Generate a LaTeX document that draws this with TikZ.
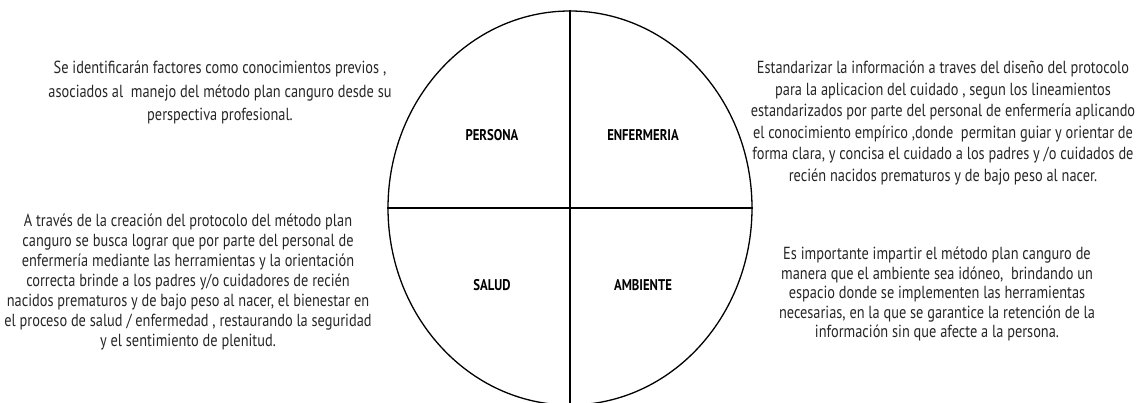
\documentclass[tikz,border=0pt]{standalone}
\usepackage{fontspec}
\setmainfont{PT Sans}[FakeStretch=0.82]
\usetikzlibrary{shapes.geometric}
\begin{document}
\begin{tikzpicture}[x=1pt,y=-1pt,
  desc/.style={align=center, inner sep=0pt, text=black!85},
  lab/.style={font=\bfseries\fontsize{15.5}{17}\selectfont, inner sep=0pt},
  ring/.style={draw, ellipse, line width=1.3pt, inner sep=0pt, minimum width=364pt, minimum height=394pt},
  divider/.style={line width=1.3pt}]
\useasboundingbox (0,0) rectangle (1139,403);
\node[ring] (c) at (570,208) {};
\draw[divider] (c.north) -- (c.south);
\draw[divider] (c.west) -- (c.east);
\node[lab] (persona) at (492,135) {PERSONA};
\node[lab] (enfermeria) at (643,135) {ENFERMERIA};
\node[lab] (salud) at (492,285) {SALUD};
\node[lab] (ambiente) at (643,285) {AMBIENTE};
\node[desc, font=\fontsize{17.5}{23.5}\selectfont] (tl) at (220,92.5) {Se identificarán factores como conocimientos previos ,\\asociados al\ \ manejo del método plan canguro desde su\\perspectiva profesional.};
\node[desc, font=\fontsize{17.5}{20}\selectfont] (bl) at (188,282) {A través de la creación del protocolo del método plan\\canguro se busca lograr que por parte del personal de\\enfermería mediante las herramientas y la orientación\\correcta brinde a los padres y/o cuidadores de recién\\nacidos prematuros y de bajo peso al nacer, el bienestar en\\el proceso de salud / enfermedad , restaurando la seguridad\\y el sentimiento de plenitud.};
\node[desc, font=\fontsize{17.5}{21.5}\selectfont] (tr) at (943,123) {Estandarizar la información a traves del diseño del protocolo\\para la aplicacion del cuidado , segun los lineamientos\\estandarizados por parte del personal de enfermería aplicando\\el conocimiento empírico ,donde\ \ permitan guiar y orientar de\\forma clara, y concisa el cuidado a los padres y /o cuidados de\\recién nacidos prematuros y de bajo peso al nacer.};
\node[desc, font=\fontsize{17.5}{19.5}\selectfont] (br) at (937,294) {Es importante impartir el método plan canguro de\\manera que el ambiente sea idóneo,\ \ brindando un\\espacio donde se implementen las herramientas\\necesarias, en la que se garantice la retención de la\\información sin que afecte a la persona.};
\end{tikzpicture}
\end{document}
